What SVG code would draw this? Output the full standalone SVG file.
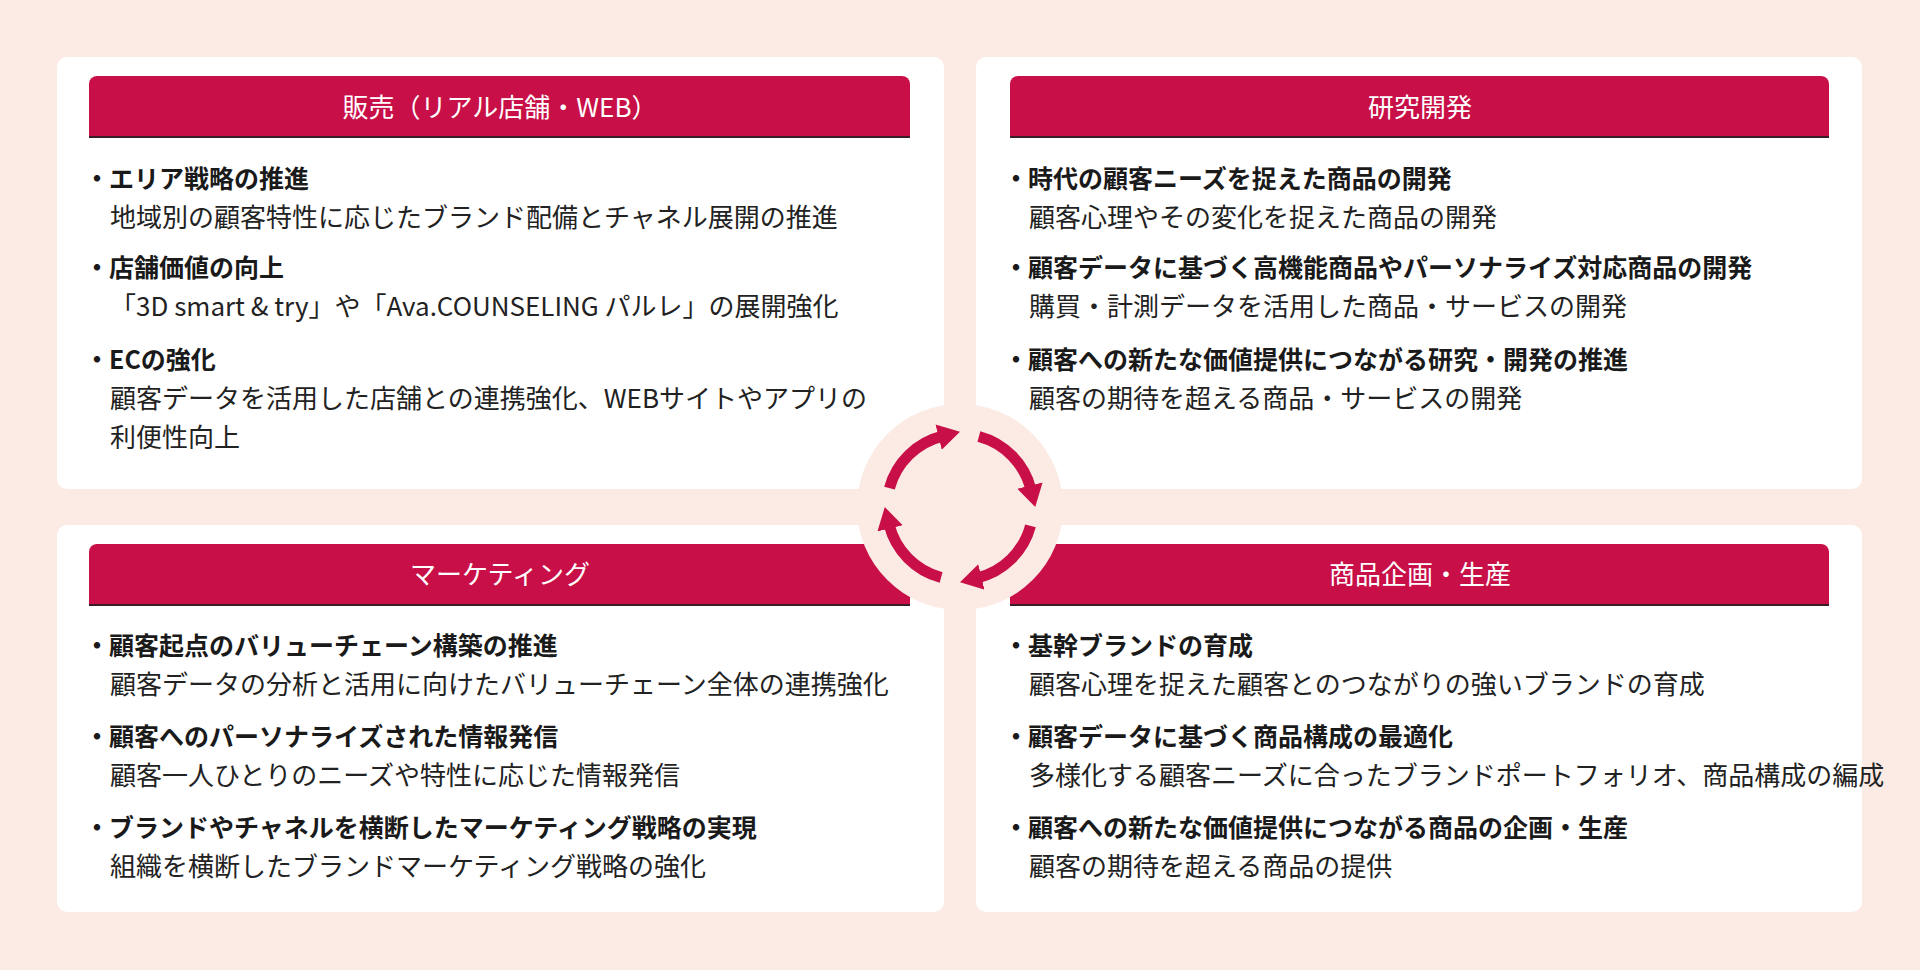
<svg xmlns="http://www.w3.org/2000/svg" width="1920" height="970" viewBox="0 0 1920 970">
<defs>
<style>
.bg{fill:#fbebe4}
.panel{fill:#ffffff}
.hdr{fill:#c80f47}
.hl{fill:#3a1e26}
.ttl{font-family:"Noto Sans CJK JP","Noto Sans",sans-serif;font-size:26px;fill:#ffffff;text-anchor:middle}
.h{font-family:"Noto Sans CJK JP","Noto Sans",sans-serif;font-size:25px;font-weight:700;fill:#1a1a1a}
.b{font-family:"Noto Sans CJK JP","Noto Sans",sans-serif;font-size:26px;fill:#222222}
.dot{font-family:"Noto Sans CJK JP",sans-serif;font-size:25px;font-weight:700;fill:#1a1a1a;text-anchor:middle}
.arc{fill:none;stroke:#c80f47;stroke-width:11}
</style>
<marker id="ah" markerUnits="userSpaceOnUse" markerWidth="30" markerHeight="30" refX="4" refY="13" orient="auto">
<path d="M0,0 L22,13 L0,26 Z" fill="#c80f47"/>
</marker>
</defs>
<rect class="bg" x="0" y="0" width="1920" height="970"/>

<g id="sales">
<rect class="panel" x="57" y="57" width="887" height="432" rx="10"/>
<path class="hdr" d="M89,84 a8,8 0 0 1 8,-8 H902 a8,8 0 0 1 8,8 V137 H89 Z"/>
<rect class="hl" x="89" y="136" width="821" height="2"/>
<text class="ttl" x="500" y="117">販売（リアル店舗・WEB）</text>
<text class="dot" x="97" y="188">・</text><text class="h" x="109" y="188">エリア戦略の推進</text>
<text class="b" x="110" y="227">地域別の顧客特性に応じたブランド配備とチャネル展開の推進</text>
<text class="dot" x="97" y="277">・</text><text class="h" x="109" y="277">店舗価値の向上</text>
<text class="b" x="110" y="316">「3D smart &amp; try」や「Ava.COUNSELING パルレ」の展開強化</text>
<text class="dot" x="97" y="369">・</text><text class="h" x="109" y="369">ECの強化</text>
<text class="b" x="110" y="408">顧客データを活用した店舗との連携強化、WEBサイトやアプリの</text>
<text class="b" x="110" y="447">利便性向上</text>
</g>

<g id="rnd">
<rect class="panel" x="976" y="57" width="886" height="432" rx="10"/>
<path class="hdr" d="M1010,84 a8,8 0 0 1 8,-8 H1821 a8,8 0 0 1 8,8 V137 H1010 Z"/>
<rect class="hl" x="1010" y="136" width="819" height="2"/>
<text class="ttl" x="1420" y="117">研究開発</text>
<text class="dot" x="1016" y="188">・</text><text class="h" x="1028" y="188">時代の顧客ニーズを捉えた商品の開発</text>
<text class="b" x="1029" y="227">顧客心理やその変化を捉えた商品の開発</text>
<text class="dot" x="1016" y="277">・</text><text class="h" x="1028" y="277">顧客データに基づく高機能商品やパーソナライズ対応商品の開発</text>
<text class="b" x="1029" y="316">購買・計測データを活用した商品・サービスの開発</text>
<text class="dot" x="1016" y="369">・</text><text class="h" x="1028" y="369">顧客への新たな価値提供につながる研究・開発の推進</text>
<text class="b" x="1029" y="408">顧客の期待を超える商品・サービスの開発</text>
</g>

<g id="marketing">
<rect class="panel" x="57" y="525" width="887" height="387" rx="10"/>
<path class="hdr" d="M89,552 a8,8 0 0 1 8,-8 H902 a8,8 0 0 1 8,8 V605 H89 Z"/>
<rect class="hl" x="89" y="604" width="821" height="2"/>
<text class="ttl" x="500" y="584">マーケティング</text>
<text class="dot" x="97" y="655">・</text><text class="h" x="109" y="655">顧客起点のバリューチェーン構築の推進</text>
<text class="b" x="110" y="694">顧客データの分析と活用に向けたバリューチェーン全体の連携強化</text>
<text class="dot" x="97" y="746">・</text><text class="h" x="109" y="746">顧客へのパーソナライズされた情報発信</text>
<text class="b" x="110" y="785">顧客一人ひとりのニーズや特性に応じた情報発信</text>
<text class="dot" x="97" y="837">・</text><text class="h" x="109" y="837">ブランドやチャネルを横断したマーケティング戦略の実現</text>
<text class="b" x="110" y="876">組織を横断したブランドマーケティング戦略の強化</text>
</g>

<g id="product">
<rect class="panel" x="976" y="525" width="886" height="387" rx="10"/>
<path class="hdr" d="M1010,552 a8,8 0 0 1 8,-8 H1821 a8,8 0 0 1 8,8 V605 H1010 Z"/>
<rect class="hl" x="1010" y="604" width="819" height="2"/>
<text class="ttl" x="1420" y="584">商品企画・生産</text>
<text class="dot" x="1016" y="655">・</text><text class="h" x="1028" y="655">基幹ブランドの育成</text>
<text class="b" x="1029" y="694">顧客心理を捉えた顧客とのつながりの強いブランドの育成</text>
<text class="dot" x="1016" y="746">・</text><text class="h" x="1028" y="746">顧客データに基づく商品構成の最適化</text>
<text class="b" x="1029" y="785">多様化する顧客ニーズに合ったブランドポートフォリオ、商品構成の編成</text>
<text class="dot" x="1016" y="837">・</text><text class="h" x="1028" y="837">顧客への新たな価値提供につながる商品の企画・生産</text>
<text class="b" x="1029" y="876">顧客の期待を超える商品の提供</text>
</g>

<g id="cycle">
<circle class="bg" cx="960" cy="507" r="103"/>
<g id="connectors">
<path class="arc" marker-end="url(#ah)" d="M889.5,488.1 A73,73 0 0 1 942.5,436.1"/>
<path class="arc" marker-end="url(#ah)" d="M978.9,436.5 A73,73 0 0 1 1030.9,489.5"/>
<path class="arc" marker-end="url(#ah)" d="M1030.5,525.9 A73,73 0 0 1 977.5,577.9"/>
<path class="arc" marker-end="url(#ah)" d="M941.1,577.5 A73,73 0 0 1 889.1,524.5"/>
</g>
</g>
</svg>
